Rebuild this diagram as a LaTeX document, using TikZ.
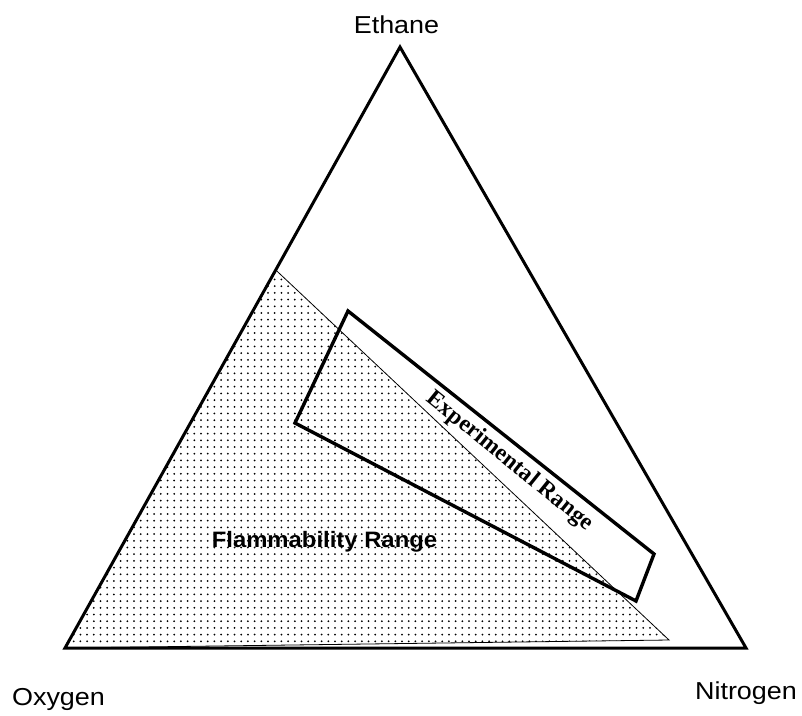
\documentclass[tikz,border=0pt]{standalone}
\usepackage{fontspec}
\setmainfont{Liberation Sans}
\newfontfamily\serifbf{Liberation Serif}
\usetikzlibrary{patterns.meta,calc}
\begin{document}
\begin{tikzpicture}[x=1pt,y=-1pt,
  edge/.style={line width=3pt,line join=miter},
  rangebox/.style={line width=3.4pt,line join=miter},
  flam/.style={line width=0.8pt,pattern={Dots[distance=6.7pt,radius=1pt]},pattern color=black},
  vlabel/.style={font=\fontsize{24.5}{28}\selectfont,xscale=1.1,anchor=base,inner sep=0pt},
]
\useasboundingbox (0,0) rectangle (802,715);
% vertices
\coordinate (E) at (400,47);
\coordinate (O) at (65,648);
\coordinate (N) at (746,648);
% flammability region
\coordinate (F1) at ($(E)!0.371!(O)$);
\coordinate (F2) at (669,640);
\path[flam,draw] (F1) -- (O) -- (F2) -- cycle;
% triangle
\draw[edge] (E) -- (O) -- (N) -- cycle;
% experimental range
\coordinate (R1) at (348,311);
\coordinate (R2) at (654,554);
\coordinate (R3) at (636,601);
\coordinate (R4) at (295,423);
\draw[rangebox] (R1) -- (R2) -- (R3) -- (R4) -- cycle;
% labels
\node[vlabel] (ethane) at (396.5,33) {Ethane};
\node[vlabel] (oxygen) at (58.5,705) {Oxygen};
\node[vlabel] (nitrogen) at (746,699) {Nitrogen};
\node[font=\bfseries\fontsize{22.3}{26}\selectfont,xscale=1.07,anchor=base,inner sep=0pt] (flamlabel) at (324.5,547) {Flammability Range};
\node[font=\serifbf\bfseries\fontsize{23.5}{26}\selectfont,rotate=-39,anchor=base,inner sep=0pt] (explabel) at (506,466) {Experimental Range};
\end{tikzpicture}
\end{document}
